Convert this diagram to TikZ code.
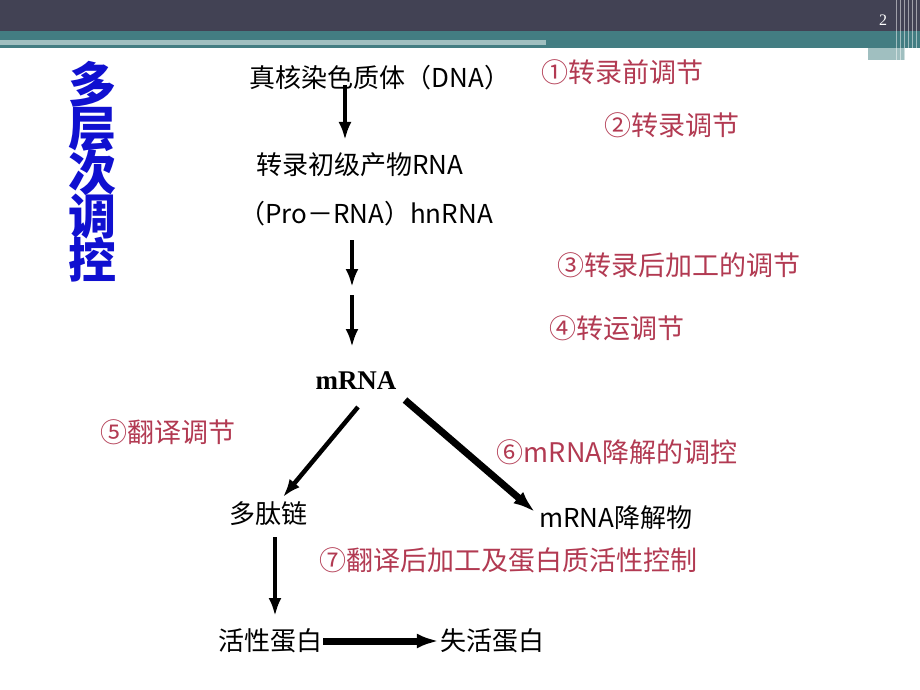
\documentclass[tikz,border=0pt]{standalone}
\usepackage{fontspec}
\setmainfont{Liberation Serif}
\newfontfamily\cjk{Noto Sans CJK SC}
\usetikzlibrary{arrows.meta}
\definecolor{hdr}{HTML}{424254}
\definecolor{teal}{HTML}{437D82}
\definecolor{lteal}{HTML}{A0BFC0}
\definecolor{redl}{HTML}{B23A52}
\definecolor{bluet}{HTML}{1010D0}
\begin{document}
\begin{tikzpicture}[x=1pt,y=-1pt,
  bk/.style={font=\cjk\fontsize{26}{28}\selectfont,inner sep=1pt},
  rd/.style={font=\cjk\fontsize{27}{29}\selectfont,text=redl,inner sep=1pt},
  ar/.style={line width=4.5pt,-{Latex[length=18pt,width=13pt]}},
  arb/.style={line width=7pt,-{Latex[length=22pt,width=15pt]}}]
\useasboundingbox (0,0) rectangle (920,690);
\fill[white] (0,0) rectangle (920,690);
\fill[hdr] (0,0) rectangle (920,31);
\fill[teal] (0,31) rectangle (920,48);
\fill[lteal] (0,40) rectangle (546,45);
\fill[lteal] (868,48) rectangle (905,60);
\foreach \x in {896,900,904,908,912,916} \draw[white,opacity=0.5,line width=0.8pt] (\x,0) -- (\x,60);
\node[text=white,font=\fontsize{16}{18}\selectfont] (pg) at (883,20) {2};
\node[font=\cjk\bfseries\fontsize{48}{50}\selectfont,text=bluet,align=center] (tt) at (92,172) {多\\[-6pt]层\\[-6pt]次\\[-6pt]调\\[-6pt]控};
\node[bk] (dna) at (380,78) {真核染色质体（DNA）};
\node[bk] (pr) at (360,165) {转录初级产物RNA};
\node[bk] (hn) at (366,214) {（Pro－RNA）hnRNA};
\node[font=\bfseries\fontsize{27}{29}\selectfont] (m) at (356,381) {mRNA};
\node[bk] (pp) at (268,514) {多肽链};
\node[bk] (md) at (616,518) {mRNA降解物};
\node[bk] (ap) at (270,641) {活性蛋白};
\node[bk] (ip) at (492,641) {失活蛋白};
\coordinate (a1) at (345,85); \coordinate (a2) at (345,140);
\coordinate (b1) at (352,240); \coordinate (b2) at (352,287);
\coordinate (c1) at (352,295); \coordinate (c2) at (352,347);
\draw[ar] (a1) -- (a2);
\draw[ar] (b1) -- (b2);
\draw[ar] (c1) -- (c2);
\draw[ar] (358,407) -- (283,497);
\draw[arb] (405,400) -- (535,512);
\draw[ar] (275,537) -- (275,616);
\draw[arb] (ap.east) -- (ip.west);
\node[rd] (l1) at (622,72) {①转录前调节};
\node[rd] (l2) at (672,125) {②转录调节};
\node[rd] (l3) at (679,265) {③转录后加工的调节};
\node[rd] (l4) at (617,328) {④转运调节};
\node[rd] (l5) at (168,432) {⑤翻译调节};
\node[rd] (l6) at (617,452) {⑥mRNA降解的调控};
\node[rd] (l7) at (508,560) {⑦翻译后加工及蛋白质活性控制};
\end{tikzpicture}
\end{document}
